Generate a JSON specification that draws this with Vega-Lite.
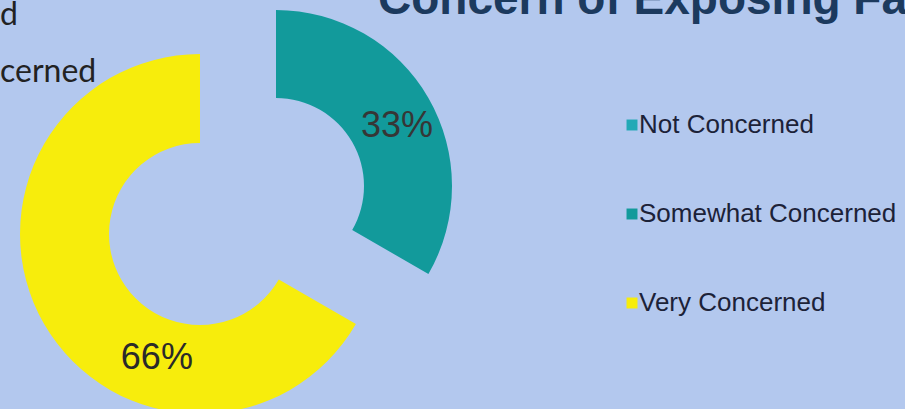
{
  "$schema": "https://vega.github.io/schema/vega-lite/v6.json",
  "width": 476,
  "height": 420,
  "autosize": {"type": "none"},
  "padding": {"left": 0, "top": 0, "right": 429, "bottom": 0},
  "background": "#b3c8ee",
  "config": {"view": {"stroke": null}},
  "title": {
    "text": "Concern of Exposing Fa",
    "orient": "top",
    "anchor": "start",
    "frame": "group",
    "dx": 378,
    "dy": 61,
    "offset": 0,
    "baseline": "alphabetic",
    "font": "Liberation Sans",
    "fontSize": 46,
    "fontWeight": "bold",
    "color": "#1c3a5e"
  },
  "data": {
    "values": [
      {"category": "Not Concerned", "value": 0, "label": "0%"},
      {"category": "Somewhat Concerned", "value": 33, "label": "33%"},
      {"category": "Very Concerned", "value": 66, "label": "66%"}
    ]
  },
  "transform": [
    {"stack": "value", "groupby": [], "sort": [{"field": "category", "order": "ascending"}], "offset": "normalize", "as": ["v0", "v1"]}
  ],
  "layer": [
    {
      "transform": [{"filter": "datum.category == 'Somewhat Concerned'"}],
      "mark": {"type": "arc", "outerRadius": 176, "innerRadius": 88, "xOffset": 38, "yOffset": -24},
      "encoding": {
        "theta": {"field": "v0", "type": "quantitative", "scale": {"domain": [0, 1]}},
        "theta2": {"field": "v1"},
        "color": {
          "field": "category",
          "type": "nominal",
          "scale": {
            "domain": ["Not Concerned", "Somewhat Concerned", "Very Concerned"],
            "range": ["#22a9b6", "#129a9b", "#f7ed0c"]
          },
          "legend": {
            "orient": "none",
            "legendX": 619,
            "legendY": 112,
            "title": null,
            "padding": 0,
            "symbolType": "square",
            "symbolSize": 120,
            "symbolStrokeWidth": 0,
            "labelFont": "Liberation Sans",
            "labelFontSize": 26,
            "labelColor": "#1c2238",
            "labelOffset": -6,
            "rowPadding": 63,
            "labelLimit": 400
          }
        }
      }
    },
    {
      "transform": [{"filter": "datum.category == 'Very Concerned'"}],
      "mark": {"type": "arc", "outerRadius": 180, "innerRadius": 91, "xOffset": -38, "yOffset": 24},
      "encoding": {
        "theta": {"field": "v0", "type": "quantitative"},
        "theta2": {"field": "v1"},
        "color": {"field": "category", "type": "nominal"}
      }
    },
    {
      "transform": [{"filter": "datum.category == 'Somewhat Concerned'"}],
      "mark": {"type": "text", "xOffset": 38, "yOffset": -24, "theta": 1.113, "radius": 135, "font": "Liberation Sans", "fontSize": 36, "color": "#363636", "align": "center", "baseline": "middle"},
      "encoding": {"text": {"field": "label"}}
    },
    {
      "transform": [{"filter": "datum.category == 'Very Concerned'"}],
      "mark": {"type": "text", "xOffset": -38, "yOffset": 24, "theta": 3.477, "radius": 131, "font": "Liberation Sans", "fontSize": 36, "color": "#2a2a2a", "align": "center", "baseline": "middle"},
      "encoding": {"text": {"field": "label"}}
    },
    {
      "data": {"values": [{"fragment": ["d", "cerned"]}]},
      "mark": {"type": "text", "x": 0, "y": 25, "align": "left", "baseline": "alphabetic", "lineHeight": 57, "font": "Lato", "fontSize": 32, "color": "#222222"},
      "encoding": {"text": {"field": "fragment"}}
    }
  ]
}
